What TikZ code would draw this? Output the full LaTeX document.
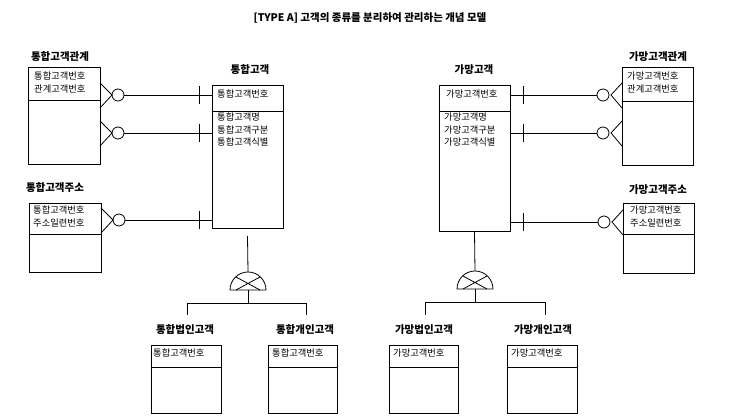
\documentclass[tikz,border=0pt]{standalone}
\usepackage{fontspec}
\setmainfont{Noto Sans CJK KR}
\usetikzlibrary{calc}
\tikzset{
  ent/.style={draw,thick,rectangle,inner sep=0pt},
  attr/.style={anchor=north west,inner sep=0pt,align=left,font=\fontsize{9.3}{12.5}\selectfont},
  ttl/.style={font=\bfseries\fontsize{10.5}{12}\selectfont},
}
% many-side on the left of the line
\newcommand\relL[2]{%
  \draw[thick] ($(#1)+(0,-12)$) -- ($(#1)+(12,0)$) -- ($(#1)+(0,13)$);
  \draw[thick] ($(#1)+(18,0)$) circle (6);
  \draw[thick] ($(#1)+(24,0)$) -- (#2);
  \draw[thick] ($(#2)+(-13,-9)$) -- ($(#2)+(-13,9)$);}
% many-side on the right of the line
\newcommand\relR[2]{%
  \draw[thick] ($(#1)+(0,-12)$) -- ($(#1)+(-11,0)$) -- ($(#1)+(0,13)$);
  \draw[thick] ($(#1)+(-19,0)$) circle (6);
  \draw[thick] ($(#1)+(-25,0)$) -- (#2);
  \draw[thick] ($(#2)+(13,-9)$) -- ($(#2)+(13,9)$);}
\newcommand\subsym[1]{%
  \draw[thick] ($(#1)+(-18,0)$) arc (180:360:18) -- cycle;
  \draw[thick] ($(#1)+(-12,-13)$) -- ($(#1)+(12,0)$) ($(#1)+(-12,0)$) -- ($(#1)+(12,-13)$);}
\begin{document}
\begin{tikzpicture}[x=1pt,y=-1pt]
  \useasboundingbox (0,0) rectangle (740,419);
  \node[ttl] (title) at (370,18) {[TYPE A] 고객의 종류를 분리하여 관리하는 개념 모델};

  % left side
  \node[ttl] (t1) at (250,70) {통합고객};
  \node[ent,minimum width=71,minimum height=143] (c1) at (247.5,156.5) {};
  \draw[thick] (c1.west |- 0,111) -- (c1.east |- 0,111);
  \node[attr] (c1k) at (217,90) {통합고객번호};
  \node[attr] (c1a) at (217,113) {통합고객명\\통합고객구분\\통합고객식별};

  \node[ttl] (t2) at (60,57) {통합고객관계};
  \node[ent,minimum width=72,minimum height=97] (r1) at (64,115.5) {};
  \draw[thick] (r1.west |- 0,100) -- (r1.east |- 0,100);
  \node[attr] (r1k) at (34,72) {통합고객번호\\관계고객번호};

  \node[ttl] (t3) at (55,188) {통합고객주소};
  \node[ent,minimum width=72,minimum height=69] (a1) at (65,237.5) {};
  \draw[thick] (a1.west |- 0,234) -- (a1.east |- 0,234);
  \node[attr] (a1k) at (33,206) {통합고객번호\\주소일련번호};

  \coordinate (m1) at (100,95);  \coordinate (o1) at (212,95);
  \coordinate (m2) at (100,133); \coordinate (o2) at (212,133);
  \coordinate (m3) at (101,220); \coordinate (o3) at (212,220);
  \relL{m1}{o1} \relL{m2}{o2} \relL{m3}{o3}

  \coordinate (s1) at (248,290);
  \draw[thick] (c1.south |- 0,236) -- ($(s1)+(0,-18)$);
  \subsym{s1}
  \draw[thick] (s1) -- (248,303);
  \draw[thick] (187,315) -- (187,303) -- (306,303) -- (306,315);

  \node[ttl] (t4) at (185,330) {통합법인고객};
  \node[ent,minimum width=70,minimum height=68] (b1) at (186,379) {};
  \draw[thick] (b1.west |- 0,367) -- (b1.east |- 0,367);
  \node[attr] (b1k) at (153,349) {통합고객번호};
  \node[ttl] (t5) at (305,330) {통합개인고객};
  \node[ent,minimum width=69,minimum height=68] (b2) at (302.5,379) {};
  \draw[thick] (b2.west |- 0,367) -- (b2.east |- 0,367);
  \node[attr] (b2k) at (272,349) {통합고객번호};

  % right side
  \node[ttl] (t6) at (474,70) {가망고객};
  \node[ent,minimum width=71,minimum height=146] (c2) at (474.5,158) {};
  \draw[thick] (c2.west |- 0,111) -- (c2.east |- 0,111);
  \node[attr] (c2k) at (446,90) {가망고객번호};
  \node[attr] (c2a) at (444,113) {가망고객명\\가망고객구분\\가망고객식별};

  \node[ttl] (t7) at (658,57) {가망고객관계};
  \node[ent,minimum width=71,minimum height=98] (r2) at (657.5,116) {};
  \draw[thick] (r2.west |- 0,101) -- (r2.east |- 0,101);
  \node[attr] (r2k) at (627,72) {가망고객번호\\관계고객번호};

  \node[ttl] (t8) at (658,190) {가망고객주소};
  \node[ent,minimum width=71,minimum height=70] (a2) at (658.5,238) {};
  \draw[thick] (a2.west |- 0,234) -- (a2.east |- 0,234);
  \node[attr] (a2k) at (630,206) {가망고객번호\\주소일련번호};

  \coordinate (n1) at (622,95);  \coordinate (p1) at (510,95);
  \coordinate (n2) at (622,133); \coordinate (p2) at (510,133);
  \coordinate (n3) at (623,222); \coordinate (p3) at (510,222);
  \relR{n1}{p1} \relR{n2}{p2} \relR{n3}{p3}

  \coordinate (s2) at (475,289);
  \draw[thick] (c2.south) -- ($(s2)+(0,-18)$);
  \subsym{s2}
  \draw[thick] (s2) -- (475,302);
  \draw[thick] (425,315) -- (425,302) -- (545,302) -- (545,315);

  \node[ttl] (t9) at (424,330) {가망법인고객};
  \node[ent,minimum width=69,minimum height=68] (b3) at (423.5,379) {};
  \draw[thick] (b3.west |- 0,367) -- (b3.east |- 0,367);
  \node[attr] (b3k) at (393,349) {가망고객번호};
  \node[ttl] (t10) at (543,330) {가망개인고객};
  \node[ent,minimum width=70,minimum height=68] (b4) at (542,379) {};
  \draw[thick] (b4.west |- 0,367) -- (b4.east |- 0,367);
  \node[attr] (b4k) at (511,349) {가망고객번호};
\end{tikzpicture}
\end{document}
